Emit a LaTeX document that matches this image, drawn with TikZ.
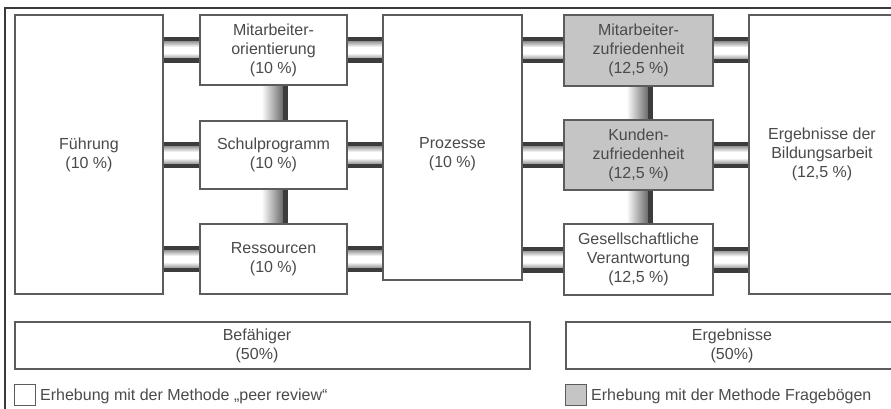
\documentclass[tikz,border=0pt]{standalone}
\usepackage{fontspec}
\setmainfont{Liberation Sans}
\usetikzlibrary{calc,backgrounds}

\definecolor{boxline}{HTML}{5C5C5C}
\definecolor{txt}{HTML}{4A4A4A}
\definecolor{boxgray}{HTML}{C5C5C5}
\definecolor{pipedark}{HTML}{3C3C3C}
\definecolor{pipemid}{HTML}{9C9C9C}
\definecolor{vpipemid}{HTML}{6E6E6E}
\definecolor{framec}{HTML}{3A3A3A}

% horizontal "pipe" connector between two points on its centre line
\newcommand\hpipe[2]{%
  \path (#1) coordinate (pa) (#2) coordinate (pb);
  \fill[pipedark] ([yshift=13pt]pa) rectangle ([yshift=8.5pt]pb);
  \shade[top color=pipemid, bottom color=white] ([yshift=8.5pt]pa) rectangle ([yshift=3pt]pb);
  \fill[white] ([yshift=3pt]pa) rectangle ([yshift=-3pt]pb);
  \shade[top color=white, bottom color=pipemid] ([yshift=-3pt]pa) rectangle ([yshift=-8.5pt]pb);
  \fill[pipedark] ([yshift=-8.5pt]pa) rectangle ([yshift=-13pt]pb);
}
% vertical connector, shaded from the left towards a dark right edge
\newcommand\vpipe[2]{%
  \path (#1) coordinate (pa) (#2) coordinate (pb);
  \shade[left color=white, right color=vpipemid] ([xshift=-12pt]pa) rectangle ([xshift=9pt]pb);
  \fill[pipedark] ([xshift=9pt]pa) rectangle ([xshift=14pt]pb);
}

\tikzset{
  box/.style={draw=boxline, line width=1.8pt, fill=white, rectangle,
    inner sep=0pt, outer sep=0pt, align=center, text=txt,
    font=\fontsize{16}{19}\selectfont},
  graybox/.style={box, fill=boxgray},
  lbl/.style={inner sep=0pt, align=center, text=txt,
    font=\fontsize{16}{19}\selectfont},
  legendbox/.style={draw=boxline, line width=1.2pt, minimum size=21pt, inner sep=0pt},
}

\begin{document}
\begin{tikzpicture}[x=1pt,y=-1pt]
\useasboundingbox (0,0) rectangle (891,409);
\clip (0,0) rectangle (891,409);

% outer frame (open to the right and bottom)
\draw[framec, line width=2.2pt] (5,409) -- (5,8) -- (891,8);

% enablers
\node[box, minimum width=148pt, minimum height=279pt] (fu) at (89,154.5) {Führung\\(10 \%)};
\node[box, minimum width=147pt, minimum height=70pt] (mo) at (273.5,50) {Mitarbeiter-\\orientierung\\(10 \%)};
\node[box, minimum width=147pt, minimum height=68pt] (sp) at (273.5,155) {Schulprogramm\\(10 \%)};
\node[box, minimum width=147pt, minimum height=70pt] (rs) at (273.5,259) {Ressourcen\\(10 \%)};
\node[box, minimum width=139pt, minimum height=265pt] (pr) at (452.5,147.5) {};
\node[lbl] (prt) at (452.5,154) {Prozesse\\(10 \%)};

% results
\node[graybox, minimum width=149pt, minimum height=71pt] (mz) at (638.5,50.5) {Mitarbeiter-\\zufriedenheit\\(12,5 \%)};
\node[graybox, minimum width=149pt, minimum height=70pt] (kz) at (638.5,155) {Kunden-\\zufriedenheit\\(12,5 \%)};
\node[box, minimum width=149pt, minimum height=71pt] (gv) at (638.5,259.5) {Gesellschaftliche\\Verantwortung\\(12,5 \%)};
\node[box, minimum width=146pt, minimum height=279pt] (eb) at (822,154.5) {Ergebnisse der\\Bildungsarbeit\\(12,5 \%)};

% group boxes
\node[box, minimum width=515pt, minimum height=47pt] (bf) at (272.5,345.5) {};
\node[lbl] (bft) at (257,345.5) {Befähiger\\(50\%)};
\node[box, minimum width=332pt, minimum height=47pt] (er) at (732,345.5) {Ergebnisse\\(50\%)};

% legend
\node[legendbox, fill=white] (lw) at (25,395) {};
\node[lbl, anchor=west] (lwt) at (40,396) {Erhebung mit der Methode „peer review“};
\node[legendbox, fill=boxgray] (lg) at (576,395) {};
\node[lbl, anchor=west] (lgt) at (591,396) {Erhebung mit der Methode Fragebögen};

% connectors, behind the boxes
\begin{scope}[on background layer]
  \hpipe{fu.east |- mo.west}{mo.west}
  \hpipe{fu.east |- sp.west}{sp.west}
  \hpipe{fu.east |- rs.west}{rs.west}
  \hpipe{mo.east}{pr.west |- mo.east}
  \hpipe{sp.east}{pr.west |- sp.east}
  \hpipe{rs.east}{pr.west |- rs.east}
  \hpipe{pr.east |- mz.west}{mz.west}
  \hpipe{pr.east |- kz.west}{kz.west}
  \hpipe{pr.east |- gv.west}{gv.west}
  \hpipe{mz.east}{eb.west |- mz.east}
  \hpipe{kz.east}{eb.west |- kz.east}
  \hpipe{gv.east}{eb.west |- gv.east}
  \vpipe{mo.south}{sp.north}
  \vpipe{sp.south}{rs.north}
  \vpipe{mz.south}{kz.north}
  \vpipe{kz.south}{gv.north}
\end{scope}
\end{tikzpicture}
\end{document}
